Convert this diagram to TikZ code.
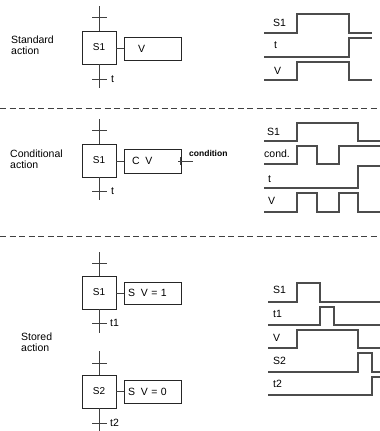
\documentclass[tikz,border=0pt]{standalone}
\usepackage{fontspec}
\setmainfont{Liberation Sans}
\begin{document}
\begin{tikzpicture}[x=1pt,y=-1pt,
  txt/.style={font=\fontsize{10.5}{10.5}\selectfont, inner sep=0pt},
  lbl/.style={txt, anchor=west, align=left},
  stepbox/.style={draw=black!85, line width=0.9pt, minimum width=34pt, minimum height=33pt, inner sep=0pt, font=\fontsize{10}{12}\selectfont},
  actbox/.style={draw=black!85, line width=0.9pt, minimum height=23pt, inner ysep=0pt, align=left, font=\fontsize{10.5}{12}\selectfont},
  wire/.style={draw=black!75, line width=0.9pt},
  sig/.style={draw=black!70, line width=1.1pt},
  sep/.style={draw=black!75, line width=0.9pt, dash pattern=on 6pt off 3.5pt},
  tick/.style={draw=black!75, line width=0.9pt}
]
\useasboundingbox (0,0) rectangle (380,431);

% ---------------- Standard action ----------------
\node[lbl] (lab1) at (11,45) {Standard\\action};
\node[stepbox] (s1) at (99,47.5) {S1};
\node[actbox, inner xsep=14pt, text width=29pt] (a1) at (152.5,48.5) {V};
\coordinate (s1top) at (99,6);
\coordinate (s1bot) at (99,88);
\draw[wire] (s1top) -- (s1.north);
\draw[wire] (s1.south) -- (s1bot);
\draw[wire] (s1.east |- a1.west) -- (a1.west);
\draw[tick] (92,17) -- (107,17);
\draw[tick] (92,79) -- (107,79);
\node[lbl] (t1l) at (111,79) {t};

\node[lbl] (w1a) at (273,23) {S1};
\node[lbl] (w1b) at (274,45) {t};
\node[lbl] (w1c) at (274,71) {V};
\draw[sig] (264,33) -- (297,33) -- (297,14) -- (349,14) -- (349,33) -- (372,33);
\draw[sig, line width=1.5pt] (264,57) -- (349,57) -- (349,38) -- (372,38);
\draw[sig] (264,80) -- (297,80) -- (297,62) -- (349,62) -- (349,80) -- (372,80);

\draw[sep] (0,108) -- (380,108);

% ---------------- Conditional action ----------------
\node[lbl] (lab2) at (10,159) {Conditional\\action};
\node[stepbox] (s2) at (99,160.5) {S1};
\node[actbox, inner xsep=8pt, text width=41pt, minimum height=24pt] (a2) at (152.5,161) {C\hspace{0.55em}V};
\coordinate (s2top) at (99,119);
\coordinate (s2bot) at (99,200);
\draw[wire] (s2top) -- (s2.north);
\draw[wire] (s2.south) -- (s2bot);
\draw[wire] (s2.east |- a2.west) -- (a2.west);
\draw[tick] (92,130) -- (107,130);
\draw[tick] (92,191) -- (107,191);
\node[lbl] (t2l) at (111,191) {t};
\coordinate (cnd) at (193,161);
\draw[wire] ([xshift=-3pt]a2.east) -- (cnd);
\draw[tick] (180,157) -- (180,165);
\node[inner sep=0pt, anchor=base west, font=\fontsize{8.5}{10}\selectfont\bfseries] (cndl) at (189,156) {condition};

\node[lbl] (w2a) at (267,132) {S1};
\node[lbl] (w2b) at (264,154) {cond.};
\node[lbl] (w2c) at (268,179) {t};
\node[lbl] (w2d) at (268,201) {V};
\draw[sig] (264,141) -- (297,141) -- (297,123) -- (358,123) -- (358,141) -- (380,141);
\draw[sig] (264,164) -- (297,164) -- (297,146) -- (317,146) -- (317,164) -- (339,164) -- (339,146) -- (380,146);
\draw[sig] (264,188) -- (358,188) -- (358,166) -- (380,166);
\draw[sig] (264,212) -- (297,212) -- (297,193) -- (317,193) -- (317,212) -- (339,212) -- (339,193) -- (358,193) -- (358,212) -- (380,212);

\draw[sep] (0,236) -- (380,236);

% ---------------- Stored action ----------------
\node[lbl] (lab3) at (21,342) {Stored\\action};
\node[stepbox] (s3) at (99,292.5) {S1};
\node[actbox, inner xsep=4pt, text width=49pt, minimum height=22pt] (a3) at (152.5,293) {S\hspace{0.55em}V = 1};
\coordinate (s3top) at (99,252);
\draw[wire] (s3top) -- (s3.north);
\coordinate (s3bot) at (99,333);
\draw[wire] (s3.south) -- (s3bot);
\draw[wire] (s3.east |- a3.west) -- (a3.west);
\draw[tick] (92,263) -- (107,263);
\draw[tick] (92,323) -- (107,323);
\node[lbl] (t3l) at (110,323) {t1};

\node[stepbox] (s4) at (99,391.5) {S2};
\node[actbox, inner xsep=4pt, text width=49pt] (a4) at (152.5,391.5) {S\hspace{0.55em}V = 0};
\coordinate (s4top) at (99,351);
\draw[wire] (s4top) -- (s4.north);
\coordinate (s4bot) at (99,431);
\draw[wire] (s4.south) -- (s4bot);
\draw[wire] (s4.east |- a4.west) -- (a4.west);
\draw[tick] (92,363) -- (107,363);
\draw[tick] (92,423) -- (107,423);
\node[lbl] (t4l) at (110,423) {t2};

\node[lbl] (w3a) at (273,290) {S1};
\node[lbl] (w3b) at (273,314) {t1};
\node[lbl] (w3c) at (273,338) {V};
\node[lbl] (w3d) at (273,361) {S2};
\node[lbl] (w3e) at (273,384) {t2};
\draw[sig] (268,302) -- (297,302) -- (297,283) -- (320,283) -- (320,302) -- (380,302);
\draw[sig] (268,325) -- (320,325) -- (320,307) -- (334,307) -- (334,325) -- (380,325);
\draw[sig] (268,348) -- (297,348) -- (297,330) -- (358,330) -- (358,348) -- (380,348);
\draw[sig] (268,372) -- (358,372) -- (358,353) -- (372,353) -- (372,372) -- (380,372);
\draw[sig] (268,395) -- (372,395) -- (372,377) -- (380,377);
\end{tikzpicture}
\end{document}
